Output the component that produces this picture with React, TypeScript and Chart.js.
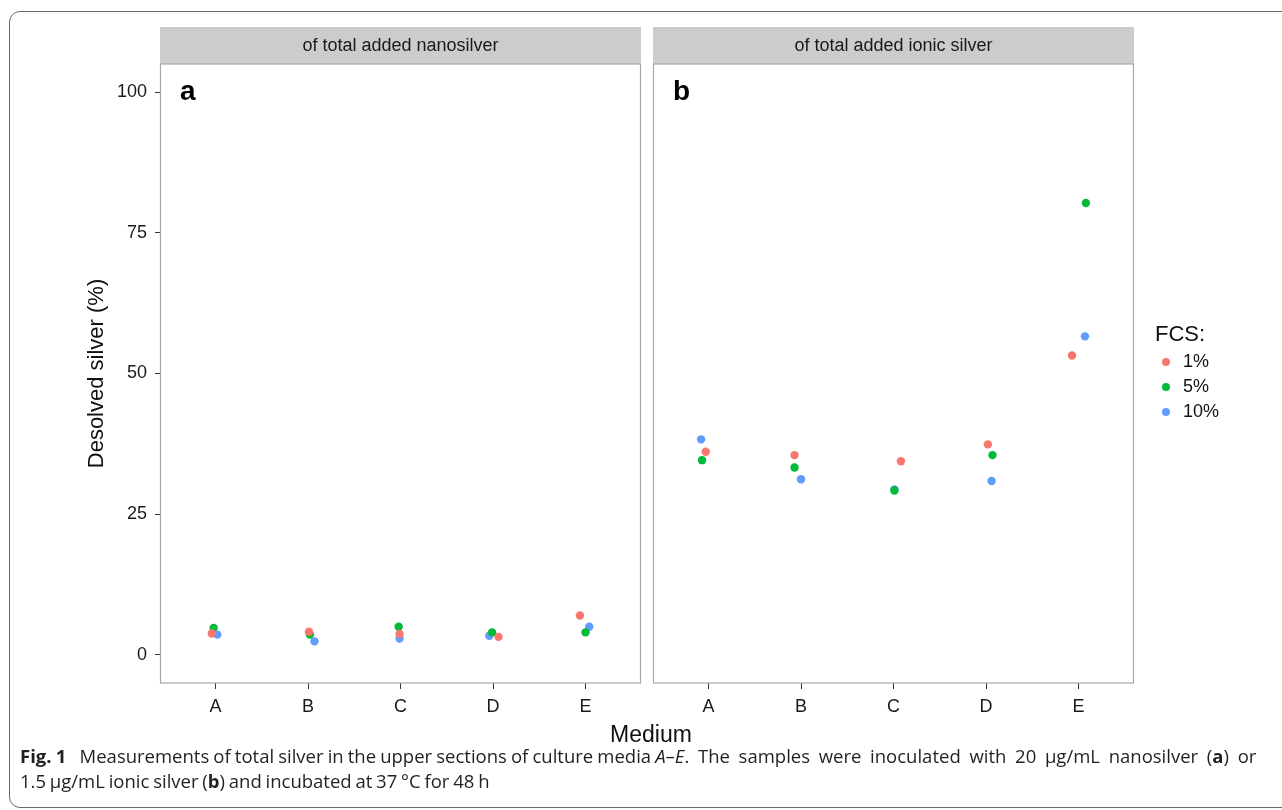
import React, { useEffect, useRef } from 'react';
import { Chart, registerables } from 'chart.js';

Chart.register(...registerables);

const categories = ['A', 'B', 'C', 'D', 'E'];
const fcsLabels = ['1%', '5%', '10%'];
const fcsColors = ['#F8766D', '#00BA38', '#619CFF'];
const yTicks = [0, 25, 50, 75, 100];

// panel a: of total added nanosilver
const nano1 = [3.8, 4.1, 3.7, 3.2, 7.0];
const nano5 = [4.8, 3.6, 5.0, 4.0, 4.0];
const nano10 = [3.6, 2.4, 2.9, 3.4, 5.0];
const nanoJit1 = [-0.04, 0.01, -0.01, 0.06, -0.06];
const nanoJit5 = [-0.02, 0.02, -0.02, -0.01, 0.0];
const nanoJit10 = [0.02, 0.07, -0.01, -0.04, 0.04];

// panel b: of total added ionic silver
const ionic1 = [36.1, 35.5, 34.4, 37.4, 53.2];
const ionic5 = [34.6, 33.3, 29.2, 35.5, 80.3];
const ionic10 = [38.3, 31.2, 29.4, 30.9, 56.6];
const ionicJit1 = [-0.03, -0.07, 0.08, 0.02, -0.07];
const ionicJit5 = [-0.07, -0.07, 0.01, 0.07, 0.08];
const ionicJit10 = [-0.08, 0.0, 0.01, 0.06, 0.07];

const FONT = '"Liberation Sans", Arial, Helvetica, sans-serif';

function makeDatasets(vals: number[][], jits: number[][]) {
  return vals.map((v, s) => ({
    label: fcsLabels[s],
    data: v.map((y, i) => ({ x: i + 1 + jits[s][i], y })),
    backgroundColor: fcsColors[s],
    borderWidth: 0,
    pointRadius: 4.2,
    pointHoverRadius: 4.2,
    showLine: false,
  }));
}

const panelPlugin = {
  id: 'panelDecor',
  beforeDatasetsDraw(chart: any, _a: any, opts: any) {
    const { ctx, chartArea } = chart;
    const { left, right, top } = chartArea;
    ctx.save();
    ctx.fillStyle = '#cccccc';
    ctx.fillRect(left, 27, right - left, top - 27);
    ctx.fillStyle = '#1a1a1a';
    ctx.font = `18px ${FONT}`;
    ctx.textAlign = 'center';
    ctx.textBaseline = 'middle';
    ctx.fillText(opts.title, (left + right) / 2, 46);
    ctx.restore();
  },
  afterDraw(chart: any, _a: any, opts: any) {
    const { ctx, chartArea } = chart;
    const { left, right, top, bottom } = chartArea;
    ctx.save();
    ctx.strokeStyle = '#a8a8a8';
    ctx.lineWidth = 1.2;
    ctx.strokeRect(left + 0.5, top, right - left - 1, bottom - top);
    ctx.fillStyle = '#000';
    ctx.font = `bold 28px ${FONT}`;
    ctx.textAlign = 'left';
    ctx.textBaseline = 'alphabetic';
    ctx.fillText(opts.letter, left + 20, 100);
    if (opts.legend) {
      const lx = right + 21;
      ctx.font = `22px ${FONT}`;
      ctx.fillStyle = '#111';
      ctx.textBaseline = 'middle';
      ctx.fillText('FCS:', lx, 335);
      chart.data.datasets.forEach((ds: any, i: number) => {
        const y = 362 + i * 25;
        ctx.fillStyle = ds.backgroundColor;
        ctx.beginPath();
        ctx.arc(lx + 11, y, 4, 0, Math.PI * 2);
        ctx.fill();
        ctx.fillStyle = '#111';
        ctx.font = `18px ${FONT}`;
        ctx.fillText(ds.label, lx + 28, y);
      });
    }
    ctx.restore();
  },
};

function makeOptions(showY: boolean, title: string, letter: string, legend: boolean, padLeft: number, padRight: number) {
  return {
    responsive: false,
    animation: false as const,
    layout: { padding: { left: padLeft, right: padRight, top: 64, bottom: 0 } },
    plugins: {
      legend: { display: false },
      tooltip: { enabled: false },
      panelDecor: { title, letter, legend },
    },
    scales: {
      x: {
        type: 'linear' as const,
        min: 0.4,
        max: 5.6,
        afterBuildTicks: (s: any) => {
          s.ticks = categories.map((_, i) => ({ value: i + 1 }));
        },
        afterFit: (s: any) => {
          s.height = 57;
        },
        grid: { drawOnChartArea: false, drawTicks: true, tickLength: 6, tickColor: '#333' },
        border: { display: false },
        ticks: {
          padding: 7,
          color: '#1a1a1a',
          font: { family: FONT, size: 18 },
          maxRotation: 0,
          callback: (v: any) => categories[Math.round(v) - 1] ?? '',
        },
      },
      y: {
        type: 'linear' as const,
        display: showY,
        min: -5,
        max: 105,
        afterBuildTicks: (s: any) => {
          s.ticks = yTicks.map((v) => ({ value: v }));
        },
        afterFit: (s: any) => {
          s.width = showY ? 160 : 0;
        },
        grid: { drawOnChartArea: false, drawTicks: true, tickLength: 5, tickColor: '#333' },
        border: { display: false },
        ticks: {
          padding: 8,
          color: '#1a1a1a',
          font: { family: FONT, size: 18 },
        },
        title: {
          display: true,
          text: 'Desolved silver (%)',
          color: '#111',
          font: { family: FONT, size: 22 },
          padding: { top: 84, bottom: 0 },
        },
      },
    },
  };
}

export default function App() {
  const refA = useRef<HTMLCanvasElement>(null);
  const refB = useRef<HTMLCanvasElement>(null);

  useEffect(() => {
    const a = new Chart(refA.current!, {
      type: 'scatter',
      data: { datasets: makeDatasets([nano1, nano5, nano10], [nanoJit1, nanoJit5, nanoJit10]) as any },
      options: makeOptions(true, 'of total added nanosilver', 'a', false, 0, 5) as any,
      plugins: [panelPlugin],
    });
    const b = new Chart(refB.current!, {
      type: 'scatter',
      data: { datasets: makeDatasets([ionic1, ionic5, ionic10], [ionicJit1, ionicJit5, ionicJit10]) as any },
      options: makeOptions(false, 'of total added ionic silver', 'b', true, 7, 148) as any,
      plugins: [panelPlugin],
    });
    return () => {
      a.destroy();
      b.destroy();
    };
  }, []);

  return (
    <div style={{ position: 'absolute', left: 0, top: 0, width: 1282, height: 810, overflow: 'hidden', background: '#fff' }}>
      <div
        style={{
          position: 'absolute',
          left: 9,
          top: 11,
          width: 1300,
          height: 797,
          border: '1.3px solid #6a6a6a',
          borderRadius: 11,
          boxSizing: 'border-box',
        }}
      />
      <canvas ref={refA} width={646} height={740} style={{ position: 'absolute', left: 0, top: 0 }} />
      <canvas ref={refB} width={636} height={740} style={{ position: 'absolute', left: 646, top: 0 }} />
      <div
        style={{
          position: 'absolute',
          left: 0,
          width: 1302,
          top: 720,
          textAlign: 'center',
          fontFamily: FONT,
          fontSize: 23,
          color: '#111',
          lineHeight: '28px',
        }}
      >
        Medium
      </div>
      <div
        style={{
          position: 'absolute',
          left: 20,
          top: 743,
          fontFamily: '"Open Sans", "Noto Sans", sans-serif',
          fontSize: 18.5,
          lineHeight: '25px',
          color: '#231f20',
          whiteSpace: 'nowrap',
        }}
      >
        <span style={{ wordSpacing: '-0.7px' }}>
          <span style={{ fontWeight: 'bold' }}>Fig. 1</span>
          {'\u2002 Measurements of total silver in the upper sections of culture media '}
          <i>A</i>–<i>E</i>
          {'.'}
        </span>
        <span style={{ wordSpacing: '3.9px' }}>
          {' The samples were inoculated with 20 µg/mL nanosilver ('}
          <b>a</b>
          {') or'}
        </span>
        <br />
        <span style={{ wordSpacing: '-1px' }}>
          {'1.5 µg/mL ionic silver ('}
          <b>b</b>
          {') and incubated at 37 °C for 48 h'}
        </span>
      </div>
    </div>
  );
}
